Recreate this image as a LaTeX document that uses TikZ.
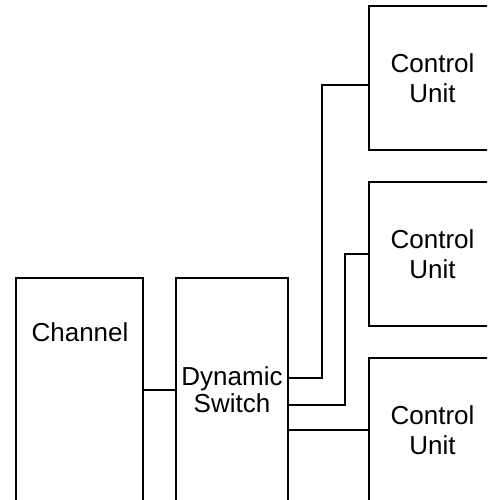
\documentclass[tikz,border=0pt]{standalone}
\usepackage{fontspec}
\setmainfont{Liberation Sans}
\usepackage{tikz}
\usetikzlibrary{positioning, calc}

\begin{document}
\begin{tikzpicture}[
  x=1pt, y=-1pt,
  unitbox/.style={rectangle, draw=black, line width=2pt, anchor=north west, minimum width=127pt, minimum height=144pt, inner sep=0pt, align=center, font=\fontsize{26}{30}\selectfont},
  wire/.style={draw=black, line width=2pt},
  caption/.style={font=\fontsize{26}{30}\selectfont, inner sep=0pt}
]
\path[use as bounding box, clip] (0,0) rectangle (487,500);
% left side: channel and switch
\node[unitbox, minimum height=224pt] (chan) at (15,277) {};
\node[caption] (chantext) at (80,332) {Channel};
\node[unitbox, minimum width=112pt, minimum height=224pt] (sw) at (175,277) {Dynamic\\[-3pt]Switch};
% control units
\node[unitbox] (cu1) at (368,5) {Control\\Unit};
\node[unitbox] (cu2) at (368,181) {Control\\Unit};
\node[unitbox] (cu3) at (368,357) {Control\\Unit};
% connectors
\draw[wire] (chan.east) -- (sw.west);
\draw[wire] ([yshift=12pt]sw.east) -- ++(33,0) |- ([yshift=-7pt]cu1.west);
\draw[wire] ([yshift=-15pt]sw.east) -- ++(56,0) |- (cu2.west);
\draw[wire] (cu3.west -| sw.east) -- (cu3.west);
\end{tikzpicture}
\end{document}
